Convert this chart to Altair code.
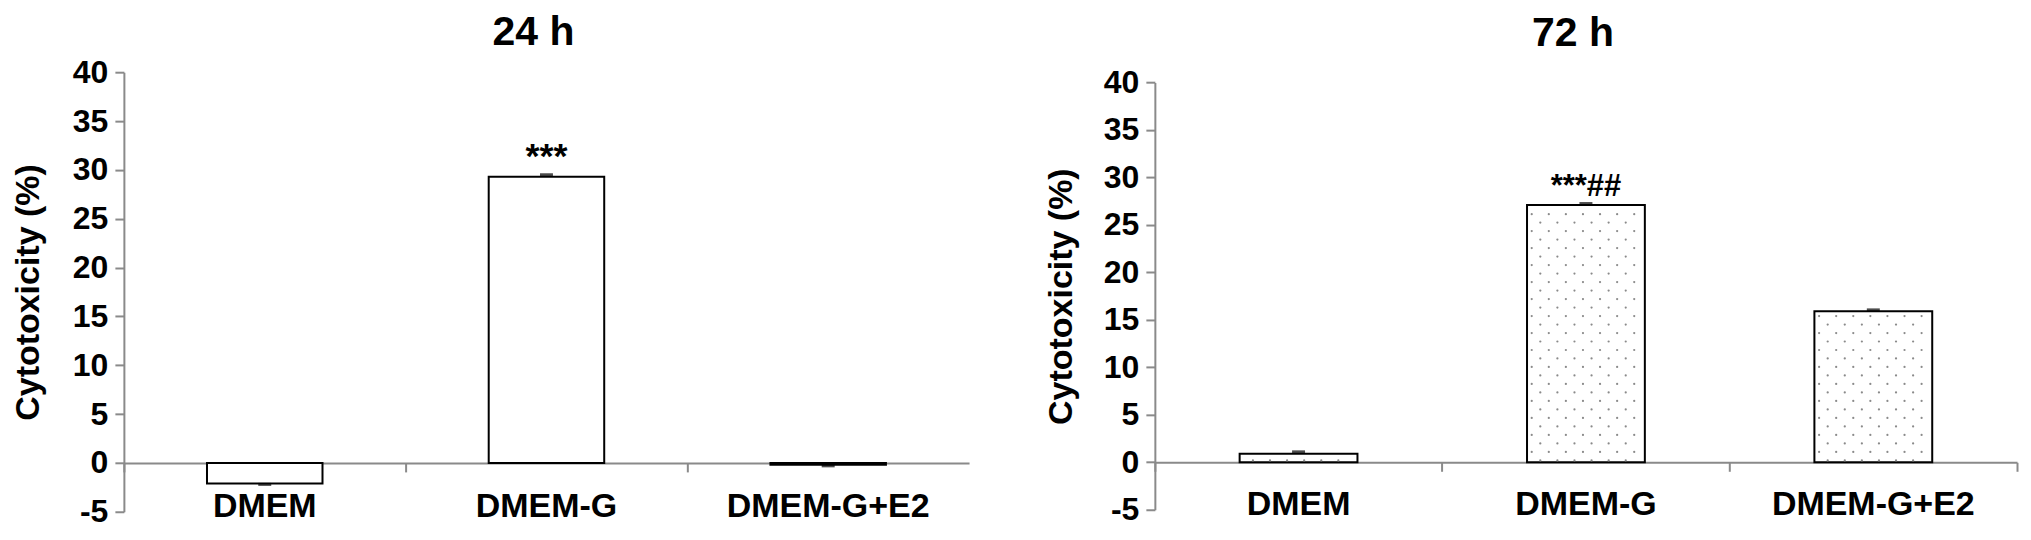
import altair as alt
import pandas as pd

categories = ["DMEM", "DMEM-G", "DMEM-G+E2"]
values_24h = [-2.1, 29.3, -0.2]
errors_24h = [0.1, 0.2, 0.1]
signif_24h = ["", "***", ""]
values_72h = [0.9, 27.1, 15.9]
errors_72h = [0.2, 0.15, 0.15]
signif_72h = ["", "***##", ""]
y_ticks = [-5, 0, 5, 10, 15, 20, 25, 30, 35, 40]

FONT = "Liberation Sans"
GRAY = "#8a8a8a"
BAR_FRAC = 0.41


def make_df(vals, errs, sig):
    return pd.DataFrame({
        "cat": categories,
        "value": vals,
        "err_end": [v + (e if v >= 0 else -e) for v, e in zip(vals, errs)],
        "sig": sig,
    })


def dot_texture(vals, width, span):
    # light dotted fill pattern inside each bar (texture only)
    band_px = width / len(categories)
    unit_px = span / 45.0
    row_step = 8.5 / unit_px
    rows = []
    for i, v in enumerate(vals):
        left = i + 0.5 - BAR_FRAC / 2
        k = 0
        while 0.2 + k * row_step < v - 0.35:
            yv = 0.2 + k * row_step
            if k % 2 == 0:
                off, n = 13.3, 6
            else:
                off, n = 4.7, 7
            for j in range(n):
                rows.append({"dx": left + (off + 17.1 * j) / band_px, "dy": yv})
            k += 1
    return pd.DataFrame(rows)


def panel(title, vals, errs, sig, width, height, top_gap, title_x, sig_size,
          sig_dy, dotted, title_offset, xlabel_pad):
    df = make_df(vals, errs, sig)
    span = height - top_gap
    axis_off = -span * 5.0 / 45.0

    yaxis = alt.Axis(
        values=y_ticks, grid=False, domainColor=GRAY, domainWidth=2,
        tickColor=GRAY, tickWidth=2, tickSize=9,
        labelFont=FONT, labelFontSize=32, labelFontWeight="bold",
        labelColor="black", labelPadding=7, labelExpr="'' + datum.value",
        title="Cytotoxicity (%)", titleFont=FONT, titleFontSize=34,
        titleFontWeight="bold", titleColor="black", titleAngle=270,
        titleX=title_x, titleY=top_gap + span / 2, titleBaseline="middle",
        titleAlign="center",
    )
    yscale = alt.Scale(domain=[-5, 40], nice=False, zero=False,
                       range=[height, top_gap])

    def xenc(axis):
        return alt.X("cat:N", sort=categories,
                     scale=alt.Scale(domain=categories, paddingInner=0,
                                     paddingOuter=0),
                     axis=axis)

    label_axis = alt.Axis(
        orient="bottom", offset=axis_off, domain=False, ticks=False,
        tickSize=0, labelPadding=xlabel_pad, labelFont=FONT, labelFontSize=34,
        labelFontWeight="bold", labelColor="black", labelAngle=0,
        labelLimit=600, title=None,
    )
    tick_axis = alt.Axis(
        orient="bottom", offset=axis_off, domain=True, domainColor=GRAY,
        domainWidth=2, ticks=True, tickColor=GRAY, tickWidth=2, tickSize=9,
        bandPosition=0, labels=False, title=None,
    )

    base = alt.Chart(df)
    bars = base.mark_bar(
        width={"band": BAR_FRAC}, fill="white", stroke="black",
        strokeWidth=2,
    ).encode(
        x=xenc(label_axis),
        y=alt.Y("value:Q", scale=yscale, axis=yaxis),
        y2=alt.datum(0),
    )
    caps = base.mark_tick(
        color="black", thickness=3, size=13,
    ).encode(
        x=xenc(tick_axis),
        y=alt.Y("err_end:Q", scale=yscale, axis=yaxis),
    )
    text = base.mark_text(
        font=FONT, fontSize=sig_size, fontWeight="bold", color="black",
        baseline="alphabetic", dy=sig_dy,
    ).encode(
        x=xenc(None),
        y=alt.Y("value:Q", scale=yscale, axis=yaxis),
        text="sig:N",
    )
    layers = [bars]
    if dotted:
        dots = alt.Chart(dot_texture(vals, width, span)).mark_circle(
            size=5, color=GRAY, opacity=1,
        ).encode(
            x=alt.X("dx:Q", scale=alt.Scale(domain=[0, 3], nice=False,
                                             zero=False),
                    axis=alt.Axis(orient="bottom", values=[3], labels=False,
                                  domain=False, ticks=True, tickColor=GRAY,
                                  tickWidth=2, tickSize=9, grid=False,
                                  offset=axis_off, title=None)),
            y=alt.Y("dy:Q", scale=yscale, axis=yaxis),
        )
        layers.append(dots)
    layers += [caps, text]
    return alt.layer(*layers).resolve_scale(x="independent").properties(
        width=width, height=height,
        title=alt.TitleParams(
            text=title, font=FONT, fontSize=41, fontWeight="bold",
            color="black", anchor="middle", frame="group", dx=-13,
            offset=title_offset,
        ),
    )


left = panel("24 h", values_24h, errors_24h, signif_24h, 846, 440, 0,
             -95, 36, -9, False, 2, 27)
right = panel("72 h", values_72h, errors_72h, signif_72h, 863, 438, 10.3,
              -93, 31, -8.5, True, 12, 25)

chart = alt.hconcat(left, right, spacing=75).properties(
    padding={"left": 4, "top": 4, "right": 5, "bottom": 0},
    background="white",
).configure_view(stroke=None)

chart.save("out.html", embed_options={"renderer": "svg", "actions": False})
